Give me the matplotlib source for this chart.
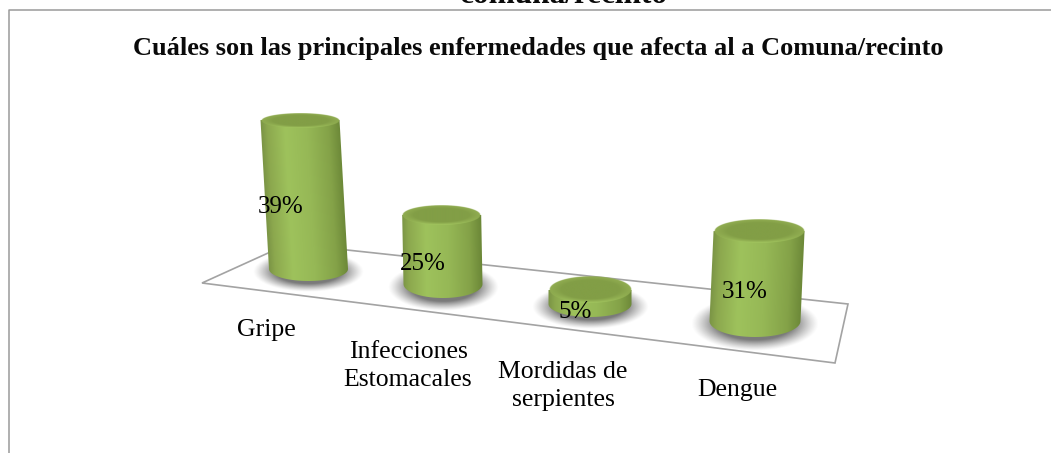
import numpy as np
import matplotlib
matplotlib.use("Agg")
import matplotlib.pyplot as plt
from matplotlib.patches import Polygon

# -------------------------
# DATA
# -------------------------
categories = ["Gripe", "Infecciones\nEstomacales", "Mordidas de\nserpientes", "Dengue"]
values = [39, 25, 5, 31]
value_labels = ["39%", "25%", "5%", "31%"]

title = "Cuáles son las principales enfermedades que afecta al a Comuna/recinto"
page_title = "comuna/recinto"

# -------------------------
# LAYOUT (pixels of the picture)
# -------------------------
W, H = 1051, 453
base_x = [308.5, 443, 590, 755]
base_y = [269, 284, 304, 321]
px_per_pct = [3.82, 2.76, 2.8, 2.9]   # the 3D view squeezes each bar differently
lean = [-0.057, -0.019, 0.0, 0.045]
half_w = [39.5, 39.5, 41.5, 45.5]
top_hh = [7.5, 10, 13.5, 12]
base_hh = [12, 14, 13, 16]
label_pos = [(281, 207), (423, 264), (575, 312), (745, 292)]
cat_pos = [(266, 330), (408, 366), (563, 386), (737, 390)]
floor = [(202, 283), (288.6, 243.7), (848, 304), (835, 363)]

body_u = [-1.0, -0.85, -0.4, 0.15, 0.7, 1.0]
body_rgb = np.array([[124, 150, 70], [140, 168, 78], [158, 194, 92],
                     [150, 184, 86], [132, 162, 72], [108, 136, 56]]) / 255


def body_image(cx0, cx1, y0, y1, w, hh):
    xs = np.arange(min(cx0, cx1) - w - 2, max(cx0, cx1) + w + 3, 0.5)
    ys = np.arange(y0 - 2, y1 + hh + 3, 0.5)
    X, Y = np.meshgrid(xs, ys)
    t = np.clip((Y - y0) / max(y1 - y0, 1), 0, 1)
    u = np.clip((X - (cx0 + (cx1 - cx0) * t)) / w, -1, 1)
    img = np.stack([np.interp(u, body_u, body_rgb[:, k]) for k in range(3)], axis=-1)
    return img, (xs[0], xs[-1], ys[-1], ys[0])


fig = plt.figure(figsize=(W / 100, H / 100), dpi=100)
ax = fig.add_axes([0, 0, 1, 1])
plt.rcParams["font.family"] = ["Liberation Serif", "DejaVu Serif"]

# frame of the page
ax.plot([8.5, 8.5, W], [H, 9.5, 9.5], color="#9a9a9a", lw=1.1, zorder=1)

# floor
ax.add_patch(Polygon(floor, closed=True, fill=False, edgecolor="#a3a3a3", lw=1.2, zorder=2))

for i, v in enumerate(values):
    w = half_w[i]
    h = v * px_per_pct[i]
    x1, y1 = base_x[i], base_y[i]
    x0, y0 = x1 + lean[i] * h, y1 - h
    th, bh = top_hh[i], base_hh[i]

    # shadow
    sw, sh = w * 1.4, bh * 1.7
    xs = np.linspace(x1 - sw, x1 + sw, 200)
    ys = np.linspace(y1 + 3 - sh, y1 + 3 + sh, 100)
    X, Y = np.meshgrid(xs, ys)
    r = np.sqrt(((X - x1) / sw) ** 2 + ((Y - y1 - 3) / sh) ** 2)
    rgba = np.zeros(r.shape + (4,))
    rgba[..., :3] = 0.42
    rgba[..., 3] = np.clip((1 - r) / 0.4, 0, 1) ** 1.2 * 0.9
    ax.imshow(rgba, extent=(xs[0], xs[-1], ys[-1], ys[0]), aspect="auto", zorder=3)

    # side of the cylinder
    t = np.linspace(0, np.pi, 60)
    outline = [(x0 - w, y0), (x0 + w, y0)]
    outline += [(x1 + w * np.cos(a), y1 + bh * np.sin(a)) for a in t]
    img, ext = body_image(x0, x1, y0, y1, w, bh)
    im = ax.imshow(img, extent=ext, aspect="auto", zorder=4)
    clip = Polygon(outline, closed=True, transform=ax.transData)
    im.set_clip_path(clip)

    # lid
    xs = np.linspace(x0 - w, x0 + w, 200)
    ys = np.linspace(y0 - th, y0 + th, 100)
    X, Y = np.meshgrid(xs, ys)
    r = np.sqrt(((X - x0) / w) ** 2 + ((Y - y0) / th) ** 2)
    shade = np.clip((r - 0.7) / 0.3, 0, 1)
    lower = np.clip((Y - y0) / th, 0, 1)
    c_mid = np.array([130, 158, 70]) / 255
    c_rim = np.array([166, 202, 98]) / 255
    c_up = np.array([146, 174, 82]) / 255
    mix = shade * lower
    lid = c_mid[None, None, :] * (1 - mix[..., None]) + c_rim[None, None, :] * mix[..., None]
    up = shade * (1 - lower)
    lid = lid * (1 - up[..., None]) + c_up[None, None, :] * up[..., None]
    rgba = np.dstack([lid, np.clip((1 - r) * w, 0, 1)])
    ax.imshow(rgba, extent=(xs[0], xs[-1], ys[-1], ys[0]), aspect="auto", zorder=5)

    ax.text(label_pos[i][0], label_pos[i][1], value_labels[i], ha="center", va="center",
            fontsize=18, color="black", zorder=6)
    ax.text(cat_pos[i][0], cat_pos[i][1], categories[i], ha="center", va="center",
            fontsize=18.5, color="black", linespacing=1.3, zorder=6)

ax.text(538.5, 55.5, title, ha="center", va="baseline", fontsize=19, fontweight="bold", color="#0a0a0a")
ax.text(564, 3, page_title, ha="center", va="baseline", fontsize=22.5, fontweight="bold", color="#0a0a0a")

ax.set_xlim(0, W)
ax.set_ylim(H, 0)
ax.axis("off")

fig.savefig("out.png", dpi=100)
